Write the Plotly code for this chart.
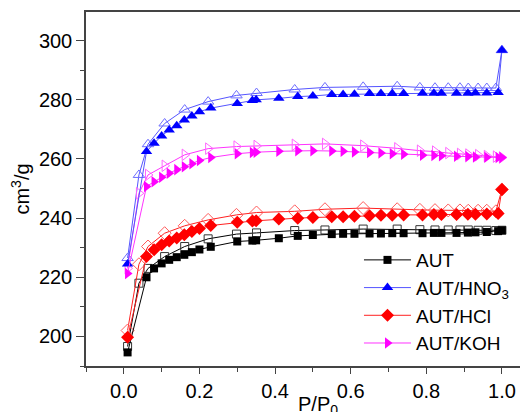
import plotly.graph_objects as go

# Adsorption branch (filled markers)
p_ads = [0.01, 0.06, 0.08, 0.10, 0.12, 0.14, 0.16, 0.18, 0.20, 0.23, 0.30, 0.34, 0.35, 0.41,
         0.46, 0.50, 0.55, 0.58, 0.61, 0.65, 0.68, 0.71, 0.74, 0.79, 0.82, 0.84, 0.88, 0.91,
         0.93, 0.96, 0.99, 1.00]
aut_ads = [194.6, 220.0, 223.0, 224.7, 225.9, 226.8, 227.6, 228.5, 229.4, 230.3, 232.1, 232.4,
           232.5, 233.2, 234.0, 234.3, 234.6, 234.7, 234.7, 234.8, 234.8, 234.9, 234.9, 234.9,
           235.0, 235.0, 235.0, 235.1, 235.2, 235.3, 235.6, 235.9]
hno3_ads = [224.5, 262.5, 265.3, 267.8, 269.8, 271.2, 273.2, 274.5, 276.0, 277.2, 278.8, 279.8,
            280.0, 280.5, 281.1, 281.3, 281.8, 281.8, 281.9, 282.1, 282.1, 282.1, 282.1, 282.2,
            282.2, 282.2, 282.2, 282.2, 282.3, 282.3, 282.5, 296.8]
hcl_ads = [199.7, 227.0, 229.3, 231.0, 232.3, 233.3, 234.4, 235.5, 236.5, 237.5, 238.6, 239.0,
           239.1, 239.7, 240.0, 240.2, 240.5, 240.5, 240.6, 240.8, 241.0, 241.0, 241.1, 241.1,
           241.2, 241.2, 241.2, 241.3, 241.3, 241.4, 241.6, 249.7]
koh_ads = [221.3, 250.7, 252.3, 253.8, 255.2, 256.4, 257.4, 258.4, 259.5, 260.5, 261.8, 262.2,
           262.3, 262.6, 262.8, 262.8, 262.7, 262.6, 262.4, 262.2, 262.0, 261.8, 261.6, 261.3,
           261.2, 261.1, 260.9, 260.8, 260.7, 260.6, 260.5, 260.5]

# Desorption branch (open markers)
p_des = [1.00, 0.984, 0.96, 0.937, 0.911, 0.889, 0.858, 0.823, 0.783, 0.723, 0.633, 0.532,
         0.452, 0.351, 0.298, 0.223, 0.161, 0.108, 0.064, 0.04, 0.01]
aut_des = [235.9, 235.8, 235.9, 235.9, 236.0, 236.0, 236.0, 236.0, 236.1, 236.3, 236.3, 236.0,
           235.8, 235.0, 234.6, 233.0, 230.4, 227.0, 223.0, 218.0, 196.6]
hno3_des = [296.8, 284.0, 284.0, 284.0, 284.0, 284.1, 284.1, 284.1, 284.2, 284.6, 284.4, 284.2,
            283.5, 282.3, 281.5, 279.4, 276.7, 272.0, 265.0, 254.6, 226.5]
hcl_des = [249.7, 242.3, 242.5, 242.5, 242.5, 242.6, 242.6, 242.7, 242.8, 243.0, 243.4, 243.0,
           242.3, 241.9, 241.1, 239.4, 237.4, 234.9, 230.4, 224.4, 202.0]
koh_des = [260.5, 260.8, 261.0, 261.3, 261.5, 261.7, 262.0, 262.5, 262.8, 263.6, 264.5, 265.1,
           264.8, 264.4, 264.2, 263.5, 261.4, 257.7, 254.6, 248.4, 223.0]

series_names = ["AUT", "AUT/HNO<sub>3</sub>", "AUT/HCl", "AUT/KOH"]
ads_values = [aut_ads, hno3_ads, hcl_ads, koh_ads]
des_values = [aut_des, hno3_des, hcl_des, koh_des]
colors = ["#000000", "#0000FF", "#FF0000", "#FF00FF"]
light_colors = ["#333333", "#6E6EFF", "#FF5A5A", "#FF66FF"]
line_colors = ["#000000", "#5555FF", "#FF2020", "#FF33FF"]
symbols = ["square", "triangle-up", "diamond", "triangle-right"]
sizes = [8, 10, 10, 10]

fig = go.Figure()

for i in range(4):
    fig.add_trace(go.Scatter(
        x=p_des, y=des_values[i], mode="lines+markers", showlegend=False,
        line=dict(color=line_colors[i], width=1),
        marker=dict(symbol=symbols[i] + "-open", size=sizes[i], color=light_colors[i],
                    line=dict(width=1, color=light_colors[i])),
    ))

for i in range(4):
    fig.add_trace(go.Scatter(
        x=p_ads, y=ads_values[i], mode="lines+markers", name=series_names[i],
        line=dict(color=line_colors[i], width=1),
        marker=dict(symbol=symbols[i], size=sizes[i], color=colors[i], line=dict(width=0)),
    ))

FONT = "Liberation Sans, Arial, sans-serif"
tick_font = dict(family=FONT, size=20, color="#000000")

# The page body adds an 8 px offset; the figure is sized to fill the rest of the window.
fig.update_layout(
    width=520, height=404,
    margin=dict(l=78, r=0, t=4, b=46),
    paper_bgcolor="white", plot_bgcolor="white",
    font=dict(family=FONT, size=20, color="#000000"),
    legend=dict(x=0.6176, y=0.353, xanchor="left", yanchor="top",
                bgcolor="rgba(0,0,0,0)", font=dict(family=FONT, size=19, color="#000000"),
                tracegroupgap=0, itemwidth=47),
    xaxis=dict(
        range=[-0.1, 1.069], tickvals=[0.0, 0.2, 0.4, 0.6, 0.8, 1.0], tickformat=".1f",
        showgrid=False, zeroline=False, showline=True, linecolor="#444444", linewidth=1.5,
        mirror=True, ticks="outside", ticklen=6, tickwidth=1.2, tickcolor="#444444",
        minor=dict(tickvals=[-0.1, 0.1, 0.3, 0.5, 0.7, 0.9], ticks="outside", ticklen=4,
                   tickcolor="#444444", showgrid=False),
        tickfont=tick_font, automargin=False,
    ),
    yaxis=dict(
        range=[190, 309.7], tickvals=[200, 220, 240, 260, 280, 300],
        showgrid=False, zeroline=False, showline=True, linecolor="#444444", linewidth=1.5,
        mirror=False, ticks="outside", ticklen=8, tickwidth=1.2, tickcolor="#444444",
        minor=dict(tickvals=[190, 210, 230, 250, 270, 290], ticks="outside", ticklen=4,
                   tickcolor="#444444", showgrid=False),
        title=dict(text="cm<sup>3</sup>/g", font=dict(family=FONT, size=20), standoff=6),
        tickfont=tick_font, automargin=False,
    ),
    annotations=[dict(
        text="P/P<sub>0</sub>", xref="paper", yref="paper", x=0.525, y=-0.0706,
        xanchor="center", yanchor="top", showarrow=False,
        font=dict(family=FONT, size=20, color="#000000"),
    )],
)

fig.write_html("out.html")
